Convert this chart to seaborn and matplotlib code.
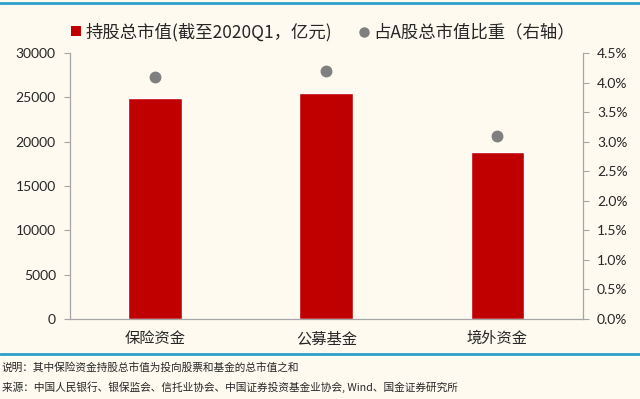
import numpy as np
import pandas as pd
import seaborn as sns
import matplotlib.pyplot as plt
from matplotlib.lines import Line2D
from matplotlib.patches import Patch

# data
categories = ['保险资金', '公募基金', '境外资金']
market_value = [24900, 25500, 18800]      # 持股总市值, 亿元
share_of_a = [4.10, 4.20, 3.10]           # 占A股总市值比重, %
left_ticks = [0, 5000, 10000, 15000, 20000, 25000, 30000]
right_ticks = [0, 0.5, 1.0, 1.5, 2.0, 2.5, 3.0, 3.5, 4.0, 4.5]

df = pd.DataFrame({'cat': categories, 'value': market_value, 'pct': share_of_a})

sns.set_style('white')
plt.rcParams['font.family'] = ['Noto Sans CJK SC', 'DejaVu Sans']
bg = '#FEFAF0'
grey = '#A6A6A6'

fig = plt.figure(figsize=(6.4, 3.99), dpi=100, facecolor=bg)
ax = fig.add_axes([0.109, 0.2005, 0.802, 0.6665], facecolor=bg)

sns.barplot(data=df, x='cat', y='value', order=categories, color='#C00000',
            width=0.315, saturation=1, ax=ax)
ax.set_ylim(0, 30000)
ax.set_yticks(left_ticks)
ax.set_yticklabels([str(t) for t in left_ticks], family='Lato', fontsize=10, color='#262626')
ax.set_xlabel('')
ax.set_ylabel('')
ax.tick_params(axis='x', length=0, pad=8, labelsize=11, colors='#262626')
ax.tick_params(axis='y', length=4, width=0.8, color=grey, pad=6, direction='out', left=True)

ax2 = ax.twinx()
sns.pointplot(data=df, x='cat', y='pct', order=categories, color='#7F7F7F',
              linestyle='none', marker='o', markersize=6.5, ax=ax2)
ax2.set_ylim(0, 4.5)
ax2.set_yticks(right_ticks)
ax2.set_yticklabels(['%.1f%%' % t for t in right_ticks], family='Lato', fontsize=10, color='#262626')
ax2.set_ylabel('')
ax2.tick_params(axis='y', length=4, width=0.8, color=grey, pad=6, direction='out', right=True)
ax.set_xlim(-0.5, 2.5)

for a in (ax, ax2):
    for s in a.spines.values():
        s.set_visible(False)
ax.spines['left'].set_visible(True)
ax.spines['bottom'].set_visible(True)
ax2.spines['right'].set_visible(True)
for s in (ax.spines['left'], ax.spines['bottom'], ax2.spines['right']):
    s.set_color(grey)
    s.set_linewidth(0.9)

# legend
handles = [Patch(facecolor='#C00000', edgecolor='none'),
           Line2D([], [], linestyle='none', marker='o', markersize=6.5,
                  markerfacecolor='#7F7F7F', markeredgecolor='#7F7F7F')]
labels = ['持股总市值(截至2020Q1，亿元)', '占A股总市值比重（右轴）']
fig.legend(handles, labels, loc='center', bbox_to_anchor=(0.505, 0.92), ncol=2,
           frameon=False, fontsize=12.5, handlelength=0.55, handleheight=0.55,
           handletextpad=0.25, columnspacing=1.6)

# blue rules and footnotes
fig.add_artist(Line2D([0, 1], [0.992, 0.992], color='#2E9FCC', lw=2, transform=fig.transFigure))
fig.add_artist(Line2D([0, 1], [0.113, 0.113], color='#2E9FCC', lw=2, transform=fig.transFigure))
fig.text(0.003, 0.08, '说明：其中保险资金持股总市值为投向股票和基金的总市值之和',
         fontsize=7.7, color='#262626', va='center')
fig.text(0.003, 0.03, '来源：中国人民银行、银保监会、信托业协会、中国证券投资基金业协会, Wind、国金证券研究所',
         fontsize=7.7, color='#262626', va='center')

fig.savefig('out.png', dpi=100, facecolor=bg)
